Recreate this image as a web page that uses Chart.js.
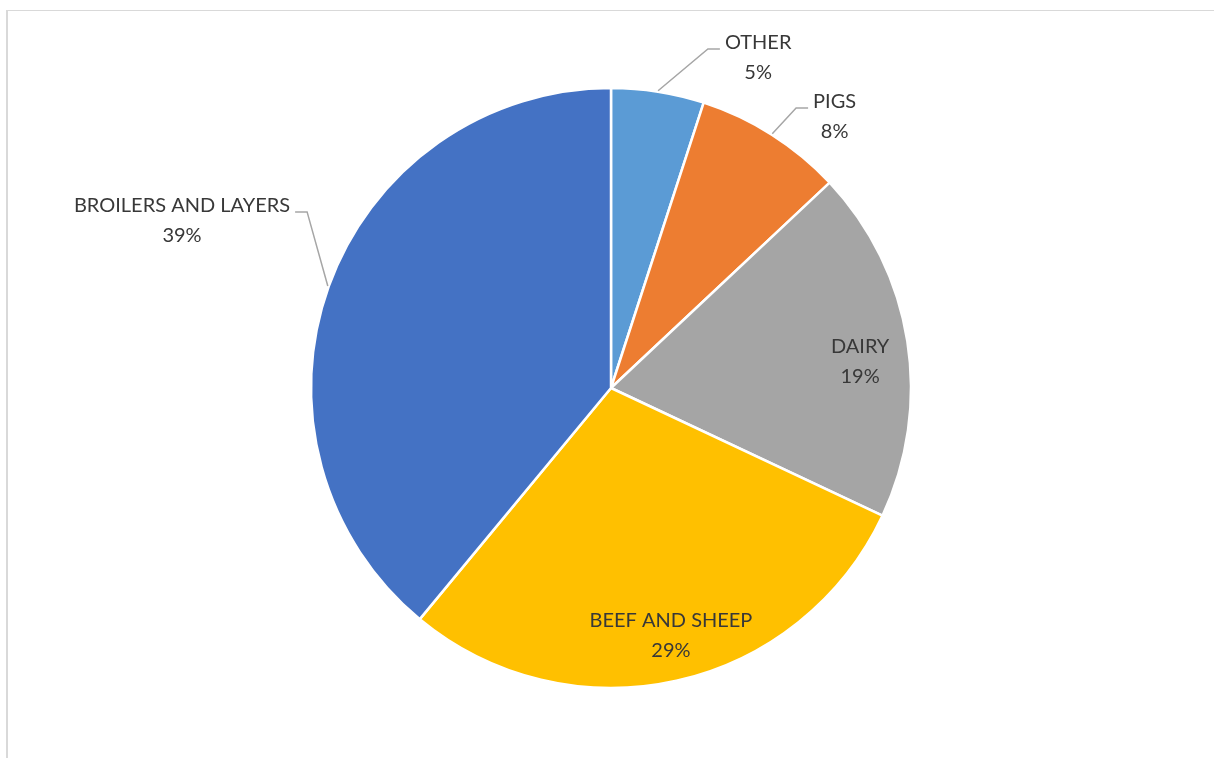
<!DOCTYPE html>
<html>
<head>
<meta charset="utf-8">
<script src="https://cdn.jsdelivr.net/npm/chart.js@4.4.1/dist/chart.umd.min.js"></script>
<style>
  html, body { margin: 0; padding: 0; background: #fff; overflow: hidden; }
  #wrap { position: relative; width: 1214px; height: 758px; }
  #frame {
    position: absolute; left: 6px; top: 10px; width: 1300px; height: 800px;
    border-top: 1px solid #d9d9d9; border-left: 2px solid #d9d9d9;
  }
  canvas { position: absolute; left: 0; top: 0; }
</style>
</head>
<body>
<div id="wrap">
  <div id="frame"></div>
  <canvas id="pie" width="1214" height="758"></canvas>
</div>
<script>
const categories = ['OTHER', 'PIGS', 'DAIRY', 'BEEF AND SHEEP', 'BROILERS AND LAYERS'];
const shares = [5, 8, 19, 29, 39];
const colors = ['#5B9BD5', '#ED7D31', '#A5A5A5', '#FFC000', '#4472C4'];

// label placement per slice: inside ones sit near the mid angle (shift in degrees),
// outside ones get a leader line with an elbow (offset from pie centre, in radii)
const labelPlacement = [
  { outside: true, elbow: [0.323, -1.13], side: 'right' },
  { outside: true, elbow: [0.617, -0.933], side: 'right' },
  { outside: false, dist: 0.835, shift: 3 },
  { outside: false, dist: 0.85, shift: -1 },
  { outside: true, elbow: [-1.013, -0.587], side: 'left' }
];

const FONT = '20px Lato, "Open Sans", sans-serif';
const TEXT_COLOR = '#383838';
const LINE_GAP = 30;

const pieLabels = {
  id: 'pieLabels',
  afterDraw(chart) {
    const ctx = chart.ctx;
    const arcs = chart.getDatasetMeta(0).data;
    ctx.save();
    ctx.font = FONT;
    ctx.fillStyle = TEXT_COLOR;
    arcs.forEach((arc, i) => {
      const p = labelPlacement[i];
      const r = arc.outerRadius;
      const mid = (arc.startAngle + arc.endAngle) / 2;
      const lines = [categories[i], shares[i] + '%'];
      if (!p.outside) {
        const a = mid + p.shift * Math.PI / 180;
        const cx = arc.x + Math.cos(a) * r * p.dist;
        const cy = arc.y + Math.sin(a) * r * p.dist;
        ctx.textAlign = 'center';
        ctx.textBaseline = 'middle';
        ctx.fillText(lines[0], cx, cy - LINE_GAP / 2);
        ctx.fillText(lines[1], cx, cy + LINE_GAP / 2);
        return;
      }
      const sx = arc.x + Math.cos(mid) * (r + 1);
      const sy = arc.y + Math.sin(mid) * (r + 1);
      const ex = arc.x + p.elbow[0] * r;
      const ey = arc.y + p.elbow[1] * r;
      const dir = p.side === 'right' ? 1 : -1;
      const tx = ex + dir * 12;
      ctx.strokeStyle = '#a6a6a6';
      ctx.lineWidth = 1.5;
      ctx.beginPath();
      ctx.moveTo(sx, sy);
      ctx.lineTo(ex, ey);
      ctx.lineTo(tx, ey);
      ctx.stroke();
      const w = ctx.measureText(lines[0]).width;
      const textX = tx + dir * 5;
      const centerX = p.side === 'right' ? textX + w / 2 : textX - w / 2;
      ctx.textAlign = 'center';
      ctx.textBaseline = 'alphabetic';
      ctx.fillText(lines[0], centerX, ey);
      ctx.fillText(lines[1], centerX, ey + LINE_GAP);
    });
    ctx.restore();
  }
};

new Chart(document.getElementById('pie'), {
  type: 'pie',
  data: {
    labels: categories,
    datasets: [{
      data: shares,
      backgroundColor: colors,
      borderColor: '#ffffff',
      borderWidth: 2.5
    }]
  },
  options: {
    responsive: false,
    animation: false,
    events: [],
    radius: 300,
    layout: { padding: { left: 8, right: 0, top: 88, bottom: 70 } },
    plugins: {
      legend: { display: false },
      tooltip: { enabled: false }
    }
  },
  plugins: [pieLabels]
});
</script>
</body>
</html>
